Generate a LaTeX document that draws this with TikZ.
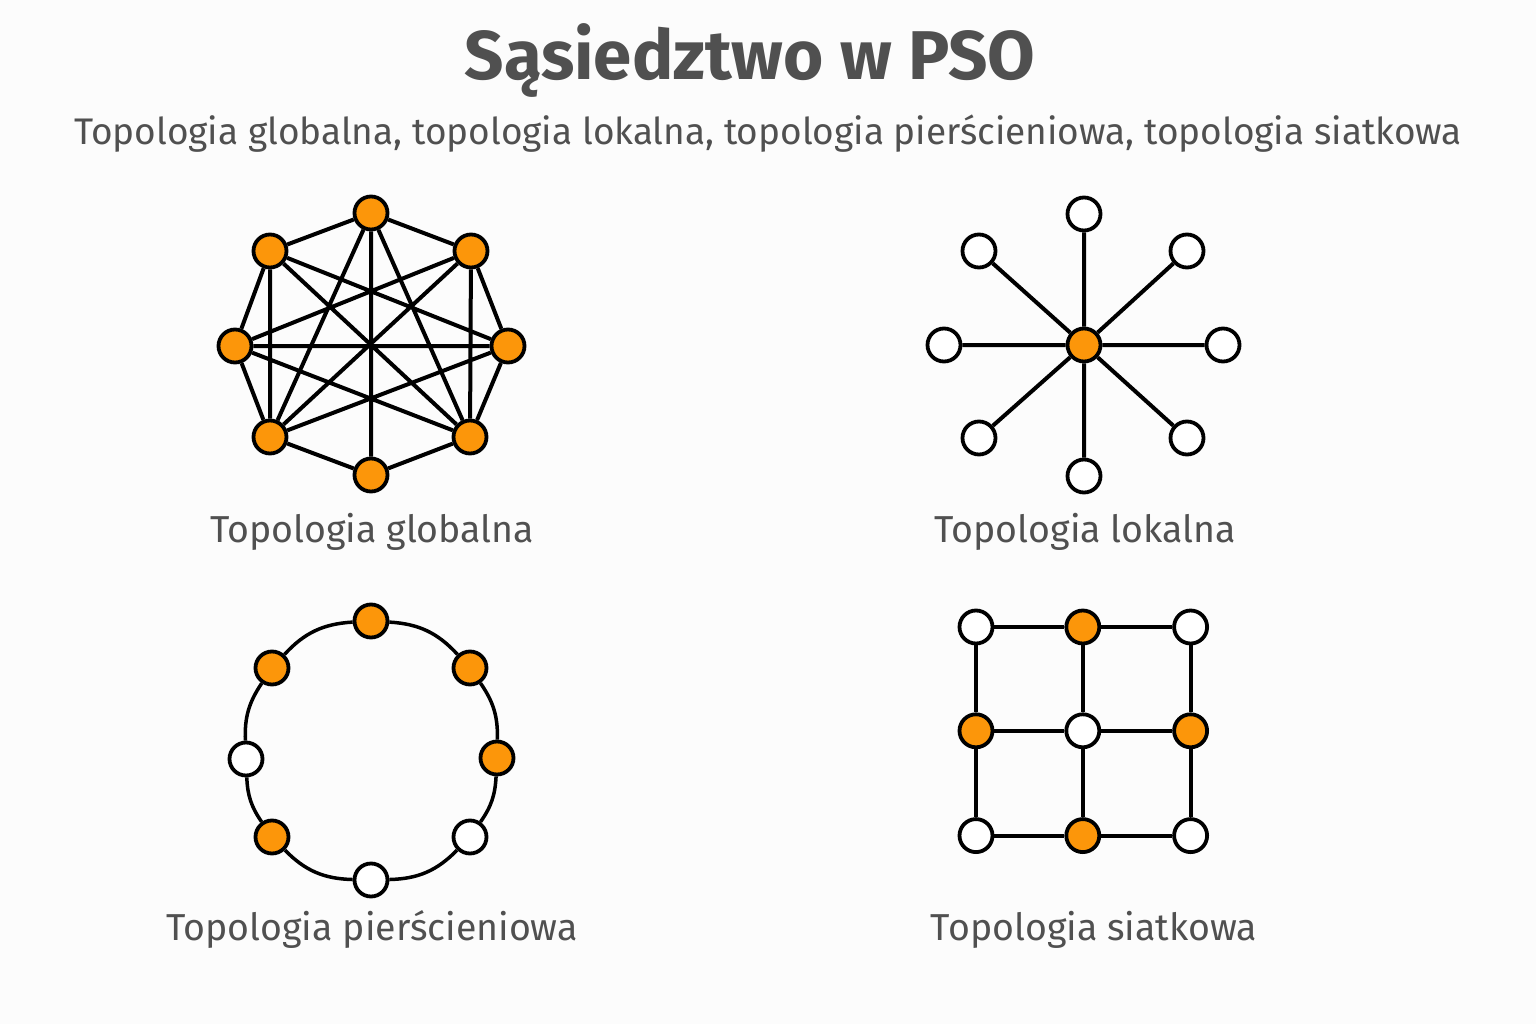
\documentclass[tikz,border=0pt]{standalone}
\usepackage{fontspec}
\setmainfont{Fira Sans}
\usetikzlibrary{positioning}
\definecolor{psoorange}{RGB}{252,150,10}
\definecolor{textgray}{RGB}{80,80,80}
\definecolor{paper}{RGB}{252,252,252}

\tikzset{
    particle/.style={draw=black, circle, line width=3.8pt, minimum size=33pt, inner sep=0pt, fill=white},
    leader/.style={particle, fill=psoorange},
    link/.style={draw=black, line width=4pt},
    ringlink/.style={draw=black, line width=3.5pt},
    caption/.style={text=textgray, anchor=base, font=\fontsize{37.5}{44}\selectfont}
}

\begin{document}
\begin{tikzpicture}[x=1pt, y=-1pt]
    \useasboundingbox[fill=paper] (0,0) rectangle (1536,1024);

    % Titles
    \node[text=textgray, anchor=base, font=\bfseries\fontsize{69}{76}\selectfont] 
        (title) at (750,80) {Sąsiedztwo w PSO};
    \node[text=textgray, anchor=base, font=\fontsize{37}{42}\selectfont] 
        (subtitle) at (768,145) {Topologia globalna, topologia lokalna, topologia pierścieniowa, topologia siatkowa};

    % Nodes: global topology
    \node[leader] (gT)  at (371,213) {};
    \node[leader] (gUL) at (270,251) {};
    \node[leader] (gUR) at (471,251) {};
    \node[leader] (gL)  at (235,346) {};
    \node[leader] (gR)  at (508,346) {};
    \node[leader] (gLL) at (270,437) {};
    \node[leader] (gLR) at (470,437) {};
    \node[leader] (gB)  at (371,475) {};

    % Nodes: local topology
    \node[leader]   (sC)  at (1084,345) {};
    \node[particle] (sT)  at (1084,214) {};
    \node[particle] (sB)  at (1084,476) {};
    \node[particle] (sL)  at (944,345) {};
    \node[particle] (sR)  at (1223,345) {};
    \node[particle] (sUL) at (979,251) {};
    \node[particle] (sUR) at (1187,251) {};
    \node[particle] (sLL) at (979,438) {};
    \node[particle] (sLR) at (1187,438) {};

    % Nodes: ring topology
    \node[leader]   (rT)  at (371,621) {};
    \node[leader]   (rUR) at (470,668) {};
    \node[leader]   (rR)  at (497,758) {};
    \node[particle] (rLR) at (470,837) {};
    \node[particle] (rB)  at (371,880) {};
    \node[leader]   (rLL) at (272,837) {};
    \node[particle] (rL)  at (246,759) {};
    \node[leader]   (rUL) at (272,668) {};

    % Nodes: mesh topology
    \node[particle] (m11) at (976,627) {};
    \node[leader, right=70pt of m11]   (m12) {};
    \node[particle, right=71pt of m12] (m13) {};
    \node[leader, below=67pt of m11]   (m21) {};
    \node[particle, right=70pt of m21] (m22) {};
    \node[leader, right=71pt of m22]   (m23) {};
    \node[particle, below=68pt of m21] (m31) {};
    \node[leader, right=70pt of m31]   (m32) {};
    \node[particle, right=71pt of m32] (m33) {};

    % Captions
    \node[caption] (capglobal) at (372,542) {Topologia globalna};
    \node[caption] (caplocal)  at (1085,542) {Topologia lokalna};
    \node[caption] (capring)   at (372,940) {Topologia pierścieniowa};
    \node[caption] (capmesh)   at (1094,940) {Topologia siatkowa};

    % Links
    \draw[link] (gT) -- (gUR) (gUR) -- (gR) (gR) -- (gLR) (gLR) -- (gB)
        (gB) -- (gLL) (gLL) -- (gL) (gL) -- (gUL) (gUL) -- (gT);
    \draw[link] (gT) -- (gB) (gT) -- (gLL) (gT) -- (gLR) (gUL) -- (gLL)
        (gUL) -- (gR) (gUL) -- (gLR) (gUR) -- (gL) (gUR) -- (gLL)
        (gUR) -- (gLR) (gL) -- (gR) (gL) -- (gLR) (gR) -- (gLL);

    \draw[link] (sC) -- (sT) (sC) -- (sB) (sC) -- (sL) (sC) -- (sR)
        (sC) -- (sUL) (sC) -- (sUR) (sC) -- (sLL) (sC) -- (sLR);

    \draw[ringlink] (rT) to[bend left=22] (rUR);
    \draw[ringlink] (rUR) to[bend left=18] (rR);
    \draw[ringlink] (rR) to[bend left=16] (rLR);
    \draw[ringlink] (rLR) to[bend left=22] (rB);
    \draw[ringlink] (rB) to[bend left=22] (rLL);
    \draw[ringlink] (rLL) to[bend left=16] (rL);
    \draw[ringlink] (rL) to[bend left=18] (rUL);
    \draw[ringlink] (rUL) to[bend left=22] (rT);

    \draw[link] (m11) -- (m12) (m12) -- (m13) (m21) -- (m22) (m22) -- (m23)
        (m31) -- (m32) (m32) -- (m33);
    \draw[link] (m11) -- (m21) (m21) -- (m31) (m12) -- (m22) (m22) -- (m32)
        (m13) -- (m23) (m23) -- (m33);
\end{tikzpicture}
\end{document}
